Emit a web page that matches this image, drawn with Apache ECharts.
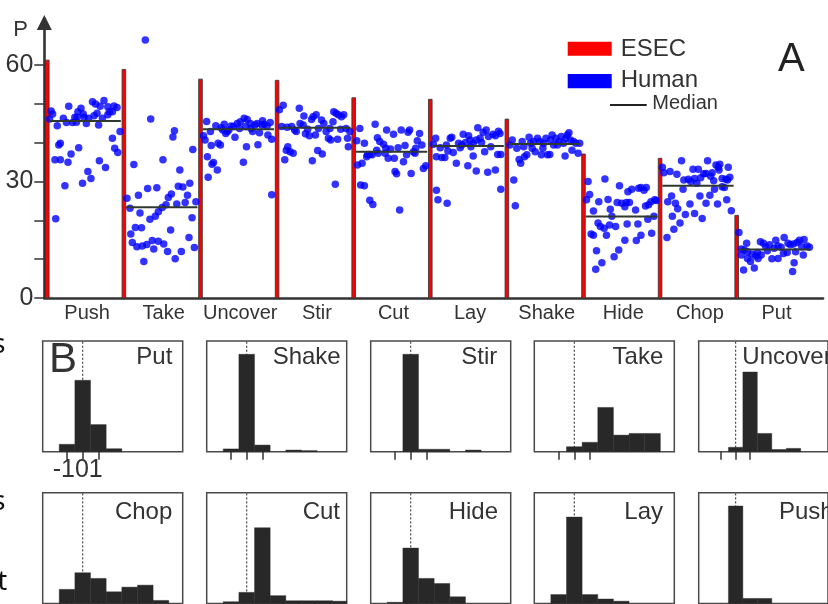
<!DOCTYPE html>
<html><head><meta charset="utf-8">
<script src="https://cdn.jsdelivr.net/npm/echarts@6/dist/echarts.min.js"></script>
<style>html,body{margin:0;padding:0;background:#fff}#c{width:828px;height:604px}</style>
</head><body><div id="c"></div>
<script>
// ---------- Panel A data ----------
const categories = ['Push','Take','Uncover','Stir','Cut','Lay','Shake','Hide','Chop','Put'];
const esecValues = [61.3, 58.9, 56.4, 56.1, 51.6, 51.2, 46.1, 37.1, 36.0, 21.3];
const medianValues = [45.6, 23.4, 43.5, 43.9, 37.7, 39.2, 39.7, 21.0, 28.9, 12.5];
const yTicksA = [0, 10, 20, 30, 40, 50, 60];
const yLabelsA = [0, 30, 60];
// human points: [position inside the group (0..1), P]
const humanPush = [[0.05,48.2],[0.07,47.4],[0.03,46.1],[0.13,44.4],[0.28,49.4],[0.21,46.3],[0.25,45.2],[0.33,45.2],[0.38,45.3],[0.36,46.6],[0.40,48.0],[0.44,48.9],[0.47,47.4],[0.51,45.0],[0.54,46.3],[0.59,50.6],[0.63,50.0],[0.65,47.6],[0.69,49.4],[0.74,50.9],[0.72,46.3],[0.67,44.6],[0.79,49.3],[0.81,48.0],[0.85,48.0],[0.87,49.5],[0.91,49.1],[0.79,47.2],[0.61,47.0],[0.48,46.6],[0.17,39.9],[0.15,39.4],[0.10,35.6],[0.17,35.6],[0.27,35.0],[0.31,37.1],[0.41,38.7],[0.23,28.9],[0.11,20.4],[0.46,29.6],[0.53,32.6],[0.57,30.8],[0.68,35.4],[0.76,33.6],[0.85,41.2],[0.88,38.6],[0.92,37.5],[0.95,42.9],[0.39,46.6]];
const humanTake = [[0.28,66.5],[0.35,46.1],[0.66,43.1],[0.64,41.5],[0.90,38.3],[0.51,35.6],[0.13,34.4],[0.73,33.0],[0.04,25.7],[0.19,26.5],[0.31,28.2],[0.43,28.4],[0.71,28.8],[0.77,28.6],[0.86,29.6],[0.83,26.5],[0.80,24.6],[0.69,24.2],[0.62,26.8],[0.58,25.9],[0.55,24.0],[0.50,23.3],[0.45,22.2],[0.41,21.1],[0.34,20.3],[0.21,21.9],[0.08,23.1],[0.15,18.2],[0.23,18.1],[0.09,16.5],[0.11,14.3],[0.17,13.2],[0.24,13.4],[0.30,13.8],[0.37,14.8],[0.45,14.6],[0.52,13.9],[0.39,12.6],[0.57,12.0],[0.75,12.0],[0.67,10.1],[0.26,9.4],[0.61,17.5],[0.85,15.6],[0.92,13.0],[0.89,20.7],[0.94,24.8]];
const humanUncover = [[0.08,45.5],[0.04,41.8],[0.06,40.7],[0.13,42.9],[0.14,39.3],[0.20,44.4],[0.23,39.9],[0.26,39.4],[0.27,43.9],[0.31,44.8],[0.33,42.4],[0.35,42.9],[0.40,44.3],[0.43,44.2],[0.45,41.4],[0.48,45.0],[0.52,45.4],[0.57,46.3],[0.61,46.0],[0.59,44.2],[0.65,45.0],[0.68,42.9],[0.71,44.6],[0.74,45.0],[0.77,42.6],[0.81,45.7],[0.83,44.8],[0.87,44.3],[0.91,45.2],[0.88,42.0],[0.93,40.9],[0.80,44.6],[0.09,36.4],[0.17,34.9],[0.15,34.5],[0.22,33.0],[0.10,31.1],[0.56,35.0],[0.60,39.0],[0.75,39.5],[0.93,26.6],[0.29,43.3],[0.37,43.3],[0.51,43.7],[0.66,43.7]];
const humanStir = [[0.03,48.5],[0.08,49.7],[0.06,44.2],[0.13,44.0],[0.19,44.2],[0.23,43.3],[0.25,42.9],[0.29,48.9],[0.35,46.9],[0.30,45.0],[0.34,44.6],[0.37,42.3],[0.40,43.5],[0.45,46.0],[0.47,46.7],[0.51,47.2],[0.50,42.0],[0.58,45.9],[0.61,45.0],[0.64,42.9],[0.67,41.2],[0.69,43.7],[0.73,45.4],[0.74,48.0],[0.77,47.6],[0.80,47.2],[0.84,46.7],[0.87,47.2],[0.83,43.5],[0.90,43.7],[0.95,42.9],[0.79,40.9],[0.92,41.2],[0.93,39.0],[0.14,39.0],[0.12,38.1],[0.17,37.7],[0.21,37.3],[0.10,35.6],[0.46,35.4],[0.53,38.0],[0.59,37.1],[0.76,29.3],[0.42,41.8],[0.54,43.7],[0.70,40.7]];
const humanCut = [[0.04,40.5],[0.08,43.7],[0.14,39.9],[0.05,34.3],[0.11,34.7],[0.17,36.4],[0.21,37.0],[0.24,36.9],[0.28,44.8],[0.31,41.3],[0.34,40.3],[0.39,39.6],[0.42,38.6],[0.43,43.3],[0.45,36.0],[0.48,38.4],[0.52,42.2],[0.53,36.0],[0.58,38.7],[0.62,43.3],[0.67,39.3],[0.69,36.9],[0.71,42.7],[0.73,43.3],[0.78,37.7],[0.81,38.6],[0.83,40.5],[0.86,42.4],[0.89,39.4],[0.91,33.4],[0.94,34.1],[0.80,37.3],[0.65,35.1],[0.54,32.6],[0.56,32.0],[0.75,32.1],[0.09,29.1],[0.14,28.9],[0.21,25.2],[0.25,24.1],[0.60,22.7],[0.32,37.3],[0.18,36.9],[0.41,37.3],[0.30,38.1]];
const humanLay = [[0.07,41.2],[0.04,39.6],[0.13,38.7],[0.08,36.4],[0.15,36.2],[0.19,36.2],[0.21,39.4],[0.26,41.2],[0.28,41.4],[0.23,37.9],[0.30,37.5],[0.34,34.7],[0.39,38.7],[0.37,39.9],[0.43,42.2],[0.46,40.1],[0.50,41.8],[0.52,40.7],[0.53,39.0],[0.49,34.1],[0.56,36.6],[0.60,40.7],[0.62,43.9],[0.65,41.2],[0.67,40.1],[0.69,42.7],[0.73,43.3],[0.76,41.6],[0.79,39.0],[0.82,42.2],[0.85,41.8],[0.89,43.0],[0.91,42.4],[0.88,37.0],[0.92,37.0],[0.71,37.7],[0.60,32.7],[0.75,32.4],[0.85,33.0],[0.92,28.0],[0.08,27.8],[0.10,25.3],[0.22,24.4],[0.41,39.4],[0.56,39.9]];
const humanShake = [[0.07,40.7],[0.04,39.4],[0.13,38.6],[0.16,35.7],[0.18,34.7],[0.20,40.3],[0.23,36.4],[0.26,36.9],[0.29,41.4],[0.31,39.9],[0.33,38.6],[0.35,40.3],[0.37,37.7],[0.40,41.2],[0.43,40.3],[0.45,36.9],[0.48,39.9],[0.51,41.2],[0.53,36.9],[0.56,37.0],[0.59,42.0],[0.61,39.4],[0.64,41.2],[0.68,40.3],[0.71,41.6],[0.74,39.9],[0.76,36.6],[0.77,41.2],[0.79,42.0],[0.81,42.6],[0.83,40.7],[0.85,38.1],[0.87,40.3],[0.90,39.9],[0.93,37.3],[0.95,39.9],[0.09,30.4],[0.11,23.8],[0.22,39.0],[0.57,40.7],[0.47,38.6],[0.66,39.4]];
const humanHide = [[0.06,30.0],[0.08,26.7],[0.04,25.3],[0.13,22.4],[0.20,24.8],[0.28,30.7],[0.32,25.4],[0.35,22.9],[0.37,21.1],[0.47,28.9],[0.44,24.6],[0.50,24.4],[0.54,23.5],[0.56,24.6],[0.60,24.6],[0.58,27.4],[0.63,28.0],[0.68,22.7],[0.72,28.3],[0.75,28.5],[0.79,27.8],[0.82,28.5],[0.81,23.7],[0.85,24.0],[0.88,24.8],[0.93,25.3],[0.95,25.1],[0.92,21.1],[0.19,19.3],[0.22,18.4],[0.27,18.0],[0.30,16.2],[0.34,18.8],[0.42,18.4],[0.57,19.1],[0.71,19.1],[0.84,20.3],[0.10,16.5],[0.17,12.2],[0.24,9.1],[0.16,7.4],[0.40,10.6],[0.46,12.4],[0.54,14.9],[0.69,14.8],[0.75,16.2],[0.89,16.7],[0.13,16.2]];
const humanChop = [[0.03,33.7],[0.05,32.3],[0.13,32.6],[0.22,31.9],[0.28,35.4],[0.31,30.4],[0.37,30.6],[0.40,30.0],[0.43,33.2],[0.45,30.8],[0.48,29.6],[0.50,33.2],[0.53,31.0],[0.57,32.0],[0.62,35.4],[0.60,32.1],[0.66,31.4],[0.68,32.3],[0.70,30.2],[0.73,34.3],[0.76,33.7],[0.78,34.5],[0.77,33.0],[0.81,30.8],[0.84,28.5],[0.86,30.6],[0.89,33.7],[0.91,31.1],[0.88,30.4],[0.30,28.0],[0.71,28.0],[0.81,28.7],[0.15,26.3],[0.10,24.8],[0.20,24.4],[0.23,23.0],[0.39,24.2],[0.52,26.3],[0.60,24.4],[0.65,26.5],[0.75,24.2],[0.87,25.3],[0.93,22.5],[0.16,21.1],[0.33,21.5],[0.45,21.8],[0.55,20.5],[0.26,19.3],[0.18,17.7],[0.09,15.6]];
const humanPut = [[0.03,16.9],[0.13,14.1],[0.06,11.1],[0.10,12.4],[0.14,10.2],[0.18,9.4],[0.23,7.7],[0.09,7.2],[0.20,11.3],[0.25,10.8],[0.28,10.2],[0.32,11.1],[0.31,14.5],[0.35,14.1],[0.38,13.2],[0.43,13.7],[0.46,10.1],[0.51,14.9],[0.54,10.2],[0.54,13.4],[0.58,13.1],[0.61,11.5],[0.62,15.6],[0.67,14.1],[0.70,13.7],[0.74,13.9],[0.79,14.3],[0.82,14.9],[0.85,13.2],[0.88,15.1],[0.92,13.4],[0.95,13.1],[0.87,11.1],[0.75,9.1],[0.73,6.8],[0.06,12.6],[0.27,11.7],[0.66,11.7],[0.14,11.9],[0.40,12.2],[0.49,12.8],[0.77,11.9]];

// ---------- Panel B data ----------
const histNames = ['Put','Shake','Stir','Take','Uncover','Chop','Cut','Hide','Lay','Push'];
const histBins = [-2, -1, 0, 1, 2, 3, 4, 5, 6];
const histPut     = [0, 0.067, 0.645, 0.245, 0.027, 0, 0, 0, 0];
const histShake   = [0, 0.025, 0.88, 0.06, 0, 0.015, 0.01, 0, 0];
const histStir    = [0, 0, 0.88, 0.022, 0.022, 0, 0.015, 0, 0];
const histTake    = [0, 0, 0.045, 0.085, 0.40, 0.15, 0.165, 0.165, 0];
const histUncover = [0, 0, 0.04, 0.72, 0.165, 0.02, 0.03, 0, 0];
const histChop    = [0, 0.127, 0.277, 0.226, 0.105, 0.147, 0.165, 0.027, 0];
const histCut     = [0, 0.015, 0.10, 0.684, 0.07, 0.024, 0.024, 0.024, 0.02];
const histHide    = [0, 0.01, 0.50, 0.226, 0.18, 0.06, 0, 0, 0];
const histLay     = [0, 0.08, 0.78, 0.08, 0.04, 0.02, 0, 0, 0];
const histPush    = [0, 0, 0.88, 0.045, 0.045, 0, 0, 0, 0];
const histTicks = [-1, 0, 1];
const histTickLabels = ['-1', '0', '1'];

// ---------- build ----------
const FF = '"Liberation Sans", Arial, Helvetica, sans-serif';
const TXT = '#333';
const humanGroups = [humanPush, humanTake, humanUncover, humanStir, humanCut, humanLay, humanShake, humanHide, humanChop, humanPut];
const histValues = [histPut, histShake, histStir, histTake, histUncover, histChop, histCut, histHide, histLay, histPush];

const humanData = [];
humanGroups.forEach((arr, i) => arr.forEach(p => humanData.push([i + p[0], p[1]])));

const grids = [{left: 44.3, top: 22.5, width: 778.7, height: 275.5}];
const xAxes = [{
  type: 'value', gridIndex: 0, min: -0.039, max: 10.127,
  axisLine: {onZero: false, lineStyle: {color: '#333', width: 2.6}},
  axisTick: {show: false}, axisLabel: {show: false}, splitLine: {show: false}
}];
const yAxes = [{
  type: 'value', gridIndex: 0, min: 0, max: 71,
  axisLine: {show: true, onZero: false, symbol: ['none', 'triangle'], symbolSize: [15, 15], lineStyle: {color: '#333', width: 2.6}},
  axisTick: {show: true, customValues: yTicksA, length: 10, lineStyle: {color: '#333', width: 1.5}},
  axisLabel: {customValues: yLabelsA, fontSize: 25, fontFamily: FF, color: TXT, margin: 11},
  splitLine: {show: false}
}];

const boxLefts = [42.7, 206.7, 370.7, 534.3, 698.7];
const rowTops = [341, 492.7];
const series = [];

histNames.forEach((name, k) => {
  const row = Math.floor(k / 5), col = k % 5;
  grids.push({left: boxLefts[col], top: rowTops[row], width: 140, height: 110.7,
    show: true, borderColor: '#4a4a4a', borderWidth: 1.5, backgroundColor: 'transparent'});
  xAxes.push({
    type: 'value', gridIndex: k + 1, min: -2.556, max: 6.39,
    axisLine: {show: false, onZero: false},
    axisTick: {show: true, customValues: histTicks, length: 8, lineStyle: {color: '#333', width: 1.5}},
    // the three tick labels -1, 0, 1 are packed tightly in the original; drawn as one label at 0
    axisLabel: {show: k === 0, customValues: [0], margin: 6,
      formatter: () => histTickLabels.join(''),
      fontSize: 25, fontFamily: FF, color: TXT, padding: [0, 10, 0, 0]},
    splitLine: {show: false}
  });
  yAxes.push({type: 'value', gridIndex: k + 1, min: 0, max: 1, show: false});
  series.push({
    type: 'line', xAxisIndex: k + 1, yAxisIndex: k + 1, data: [[0, 0], [0, 1]],
    symbol: 'none', silent: true, z: 1,
    lineStyle: {color: '#333', width: 1.1, type: [2, 2]}
  });
  series.push({
    type: 'custom', xAxisIndex: k + 1, yAxisIndex: k + 1, z: 3, silent: true,
    data: histBins.map((b, j) => [b, histValues[k][j]]),
    renderItem: (params, api) => {
      const b = api.value(0), v = api.value(1);
      if (!v) return null;
      const cs = params.coordSys;
      const p0 = api.coord([b - 0.5, 0]);
      const p1 = api.coord([b + 0.5, v]);
      const x0 = Math.max(p0[0], cs.x), x1 = Math.min(p1[0], cs.x + cs.width);
      if (x1 <= x0) return null;
      return {type: 'rect', shape: {x: x0, y: p1[1], width: x1 - x0, height: p0[1] - p1[1]},
        style: {fill: '#282828', stroke: '#282828', lineWidth: 0.4}};
    }
  });
});

// Panel A series
series.push({
  type: 'custom', xAxisIndex: 0, yAxisIndex: 0, z: 2, silent: true,
  data: esecValues.map((v, i) => [i, v]),
  renderItem: (params, api) => {
    const p0 = api.coord([api.value(0), 0]);
    const p1 = api.coord([api.value(0), api.value(1)]);
    return {type: 'rect', shape: {x: p0[0] - 1.8, y: p1[1], width: 3.6, height: p0[1] - p1[1]},
      style: {fill: '#ff0000', stroke: '#3a3a3a', lineWidth: 0.9}};
  }
});
series.push({
  type: 'scatter', xAxisIndex: 0, yAxisIndex: 0, z: 3, silent: true,
  data: humanData, symbolSize: 7.5, itemStyle: {color: '#0000ff'}
});
series.push({
  type: 'custom', xAxisIndex: 0, yAxisIndex: 0, z: 4, silent: true,
  data: medianValues.map((v, i) => [i, v]),
  renderItem: (params, api) => {
    const i = api.value(0), v = api.value(1);
    const a = api.coord([i + 0.03, v]), b = api.coord([i + 0.96, v]);
    return {type: 'line', shape: {x1: a[0], y1: a[1], x2: b[0], y2: b[1]},
      style: {stroke: '#2e382e', lineWidth: 2}};
  }
});
series.push({
  type: 'custom', xAxisIndex: 0, yAxisIndex: 0, z: 4, silent: true,
  data: categories.map((c, i) => [i + 0.5, 0]),
  renderItem: (params, api) => {
    const p = api.coord([api.value(0), 0]);
    return {type: 'text', x: p[0] + 1.5, y: p[1] + 15.5,
      style: {text: categories[params.dataIndex], fill: TXT, font: '20px ' + FF, align: 'center', verticalAlign: 'middle'}};
  }
});

// box titles in panel B
const boxTitleY = [357.5, 512.7];
const boxTitleRight = [172.3, 340.7, 497.3, 663.3, null, 172.3, 340, 498, 663, null];
const boxTitleLeft = [null, null, null, null, 742.3, null, null, null, null, 779];
const graphics = [];
histNames.forEach((name, k) => {
  const row = Math.floor(k / 5);
  const right = boxTitleRight[k];
  graphics.push({type: 'text', x: right != null ? right : boxTitleLeft[k], y: boxTitleY[row], silent: true,
    style: {text: name, fill: TXT, font: '24px ' + FF, align: right != null ? 'right' : 'left', verticalAlign: 'middle'}});
});
// legend
graphics.push({type: 'rect', shape: {x: 567.7, y: 41.7, width: 44, height: 14}, style: {fill: '#ff0000'}, silent: true});
graphics.push({type: 'rect', shape: {x: 567.7, y: 74, width: 44, height: 14.3}, style: {fill: '#0000ff'}, silent: true});
graphics.push({type: 'line', shape: {x1: 610, y1: 105, x2: 646.7, y2: 105}, style: {stroke: '#222', lineWidth: 2}, silent: true});
graphics.push({type: 'text', x: 620.7, y: 49, silent: true, style: {text: 'ESEC', fill: TXT, font: '24px ' + FF, align: 'left', verticalAlign: 'middle'}});
graphics.push({type: 'text', x: 620.7, y: 80.7, silent: true, style: {text: 'Human', fill: TXT, font: '24px ' + FF, align: 'left', verticalAlign: 'middle'}});
graphics.push({type: 'text', x: 652.3, y: 103.8, silent: true, style: {text: 'Median', fill: TXT, font: '20px ' + FF, align: 'left', verticalAlign: 'middle'}});
// panel letters and axis name
graphics.push({type: 'text', x: 778, y: 60.3, silent: true, style: {text: 'A', fill: '#222', font: '40px ' + FF, align: 'left', verticalAlign: 'middle'}});
graphics.push({type: 'text', x: 49, y: 360.3, silent: true, style: {text: 'B', fill: '#333', font: '42px ' + FF, align: 'left', verticalAlign: 'middle'}});
graphics.push({type: 'text', x: 13.3, y: 29.7, silent: true, style: {text: 'P', fill: TXT, font: '22px ' + FF, align: 'left', verticalAlign: 'middle'}});
// cropped text fragments at the left edge
graphics.push({type: 'text', x: -7.5, y: 345.5, silent: true, style: {text: 's', fill: '#111', font: '27px "Noto Sans", "Open Sans", sans-serif', align: 'left', verticalAlign: 'middle'}});
graphics.push({type: 'text', x: -7.5, y: 502.5, silent: true, style: {text: 's', fill: '#111', font: '27px "Noto Sans", "Open Sans", sans-serif', align: 'left', verticalAlign: 'middle'}});
graphics.push({type: 'text', x: -2.6, y: 582.5, silent: true, style: {text: 't', fill: '#111', font: '27px "Noto Sans", "Open Sans", sans-serif', align: 'left', verticalAlign: 'middle'}});

const chart = echarts.init(document.getElementById('c'), null, {renderer: 'canvas'});
chart.setOption({
  animation: false,
  backgroundColor: '#fff',
  textStyle: {fontFamily: FF},
  grid: grids, xAxis: xAxes, yAxis: yAxes, series: series, graphic: graphics
});
</script></body></html>
